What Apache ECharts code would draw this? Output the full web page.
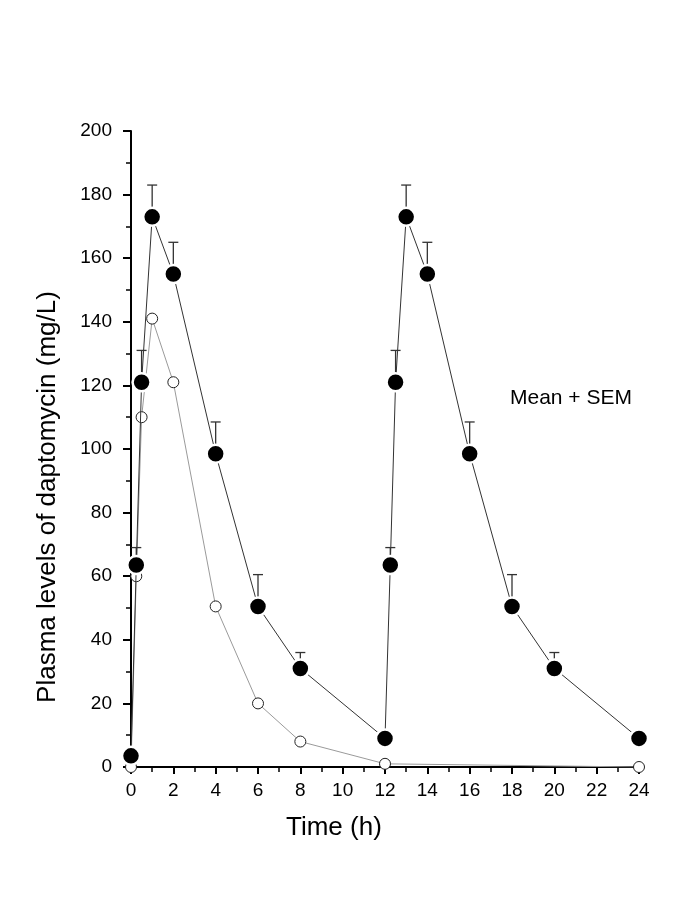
<!DOCTYPE html>
<html>
<head>
<meta charset="utf-8">
<script src="https://cdn.jsdelivr.net/npm/echarts@6/dist/echarts.min.js"></script>
<style>html,body{margin:0;padding:0;background:#fff}#c{width:685px;height:913px}</style>
</head>
<body>
<div id="c"></div>
<script>
var timesMean = [0, 0.25, 0.5, 1, 2, 4, 6, 8, 12, 12.25, 12.5, 13, 14, 16, 18, 20, 24];
var meanValues = [3.5, 63.5, 121, 173, 155, 98.5, 50.5, 31, 9, 63.5, 121, 173, 155, 98.5, 50.5, 31, 9];
var semValues = [0, 5.5, 10, 10, 10, 10, 10, 5, 0, 5.5, 10, 10, 10, 10, 10, 5, 0];
var timesOpen = [0, 0.25, 0.5, 1, 2, 4, 6, 8, 12, 24];
var openValues = [0, 60, 110, 141, 121, 50.5, 20, 8, 1, 0];
var xTicks = [0, 2, 4, 6, 8, 10, 12, 14, 16, 18, 20, 22, 24];
var yTicks = [0, 20, 40, 60, 80, 100, 120, 140, 160, 180, 200];

var font = '"Liberation Sans", Arial, sans-serif';
var meanData = timesMean.map(function (t, i) { return [t, meanValues[i]]; });
var openData = timesOpen.map(function (t, i) { return [t, openValues[i]]; });
var errData = timesMean.map(function (t, i) { return [t, meanValues[i], meanValues[i] + semValues[i]]; })
  .filter(function (d) { return d[2] > d[1]; });

var chart = echarts.init(document.getElementById('c'), null, { renderer: 'canvas' });
chart.setOption({
  animation: false,
  backgroundColor: '#ffffff',
  grid: { left: 131, right: 46, top: 131, bottom: 146, containLabel: false },
  xAxis: {
    type: 'value', min: xTicks[0], max: xTicks[xTicks.length - 1], interval: 2,
    axisLine: { show: true, onZero: false, lineStyle: { color: '#000', width: 2 } },
    axisTick: { show: true, inside: false, length: 7, lineStyle: { color: '#000', width: 2 } },
    minorTick: { show: true, splitNumber: 2, length: 5, lineStyle: { color: '#000', width: 1.5 } },
    axisLabel: { color: '#000', fontSize: 19, fontFamily: font, margin: 14 },
    splitLine: { show: false }
  },
  yAxis: {
    type: 'value', min: yTicks[0], max: yTicks[yTicks.length - 1], interval: 20,
    axisLine: { show: true, onZero: false, lineStyle: { color: '#000', width: 2 } },
    axisTick: { show: true, inside: false, length: 8, lineStyle: { color: '#000', width: 2 } },
    minorTick: { show: true, splitNumber: 2, length: 5, lineStyle: { color: '#000', width: 1.5 } },
    axisLabel: { color: '#000', fontSize: 19, fontFamily: font, margin: 19 },
    splitLine: { show: false }
  },
  graphic: [
    { type: 'text', x: 48, y: 497, rotation: Math.PI / 2,
      style: { text: 'Plasma levels of daptomycin (mg/L)', fill: '#000', font: '26px ' + font,
               align: 'center', verticalAlign: 'middle', textAlign: 'center', textVerticalAlign: 'middle' } },
    { type: 'text', left: 286, top: 815, style: { text: 'Time (h)', fill: '#000', font: '26px ' + font } },
    { type: 'text', left: 510, top: 388, style: { text: 'Mean + SEM', fill: '#000', font: '21px ' + font } }
  ],
  series: [
    {
      type: 'line', data: openData, z: 2,
      symbol: 'circle', symbolSize: 11,
      lineStyle: { color: '#9a9a9a', width: 1 },
      itemStyle: { color: '#ffffff', borderColor: '#222', borderWidth: 1 }
    },
    {
      type: 'custom', data: errData, z: 3,
      renderItem: function (params, api) {
        var x = api.value(0);
        var p0 = api.coord([x, api.value(1)]);
        var p1 = api.coord([x, api.value(2)]);
        return {
          type: 'group',
          children: [
            { type: 'line', shape: { x1: p0[0], y1: p0[1], x2: p1[0], y2: p1[1] }, style: { stroke: '#333', lineWidth: 1.3 } },
            { type: 'line', shape: { x1: p1[0] - 5, y1: p1[1], x2: p1[0] + 5, y2: p1[1] }, style: { stroke: '#333', lineWidth: 1.3 } }
          ]
        };
      }
    },
    {
      type: 'line', data: meanData, z: 4,
      symbol: 'circle', symbolSize: 18,
      lineStyle: { color: '#333', width: 1 },
      itemStyle: { color: '#000', borderColor: '#fff', borderWidth: 2.5 }
    }
  ]
});
</script>
</body>
</html>
